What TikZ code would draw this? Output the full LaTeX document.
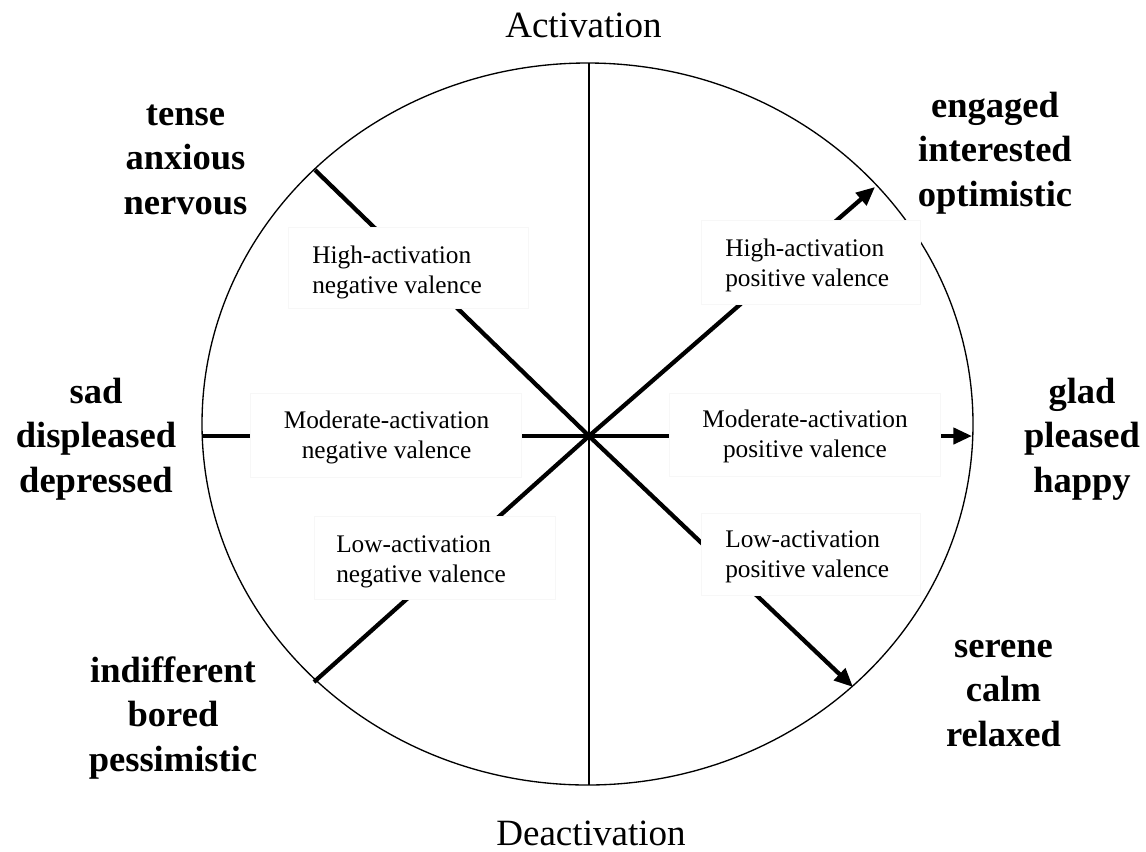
\documentclass[tikz,border=0pt]{standalone}
\usepackage{fontspec}
\setmainfont{Liberation Serif}
\usetikzlibrary{arrows.meta,fit}

% stacked lines whose baseline is that of the first line
\newcommand{\linesof}[2]{\begin{tabular}[t]{@{}#1@{}}#2\end{tabular}}

\begin{document}
\begin{tikzpicture}[x=0.75pt, y=-0.75pt,
  rim/.style={line width=1pt},
  axisline/.style={line width=1.5pt},
  spoke/.style={line width=3.2pt},
  spokearrow/.style={spoke, -{Triangle[length=14pt, width=12pt]}},
  region/.style={draw=black!3, line width=0.4pt, fill=white, inner sep=0pt},
  regionlabel/.style={inner sep=0pt, font=\fontsize{19}{22.5}\selectfont},
  mood/.style={inner sep=0pt, anchor=base, font=\fontsize{27.4}{33.5}\selectfont\bfseries},
  pole/.style={inner sep=0pt, anchor=base, font=\fontsize{27.8}{33}\selectfont},
]
% canvas
\fill[white] (0,0) rectangle (1146,851);
\path[use as bounding box] (0,0) rectangle (1146,851);

% key points
\coordinate (c)   at (589,436);
\coordinate (top) at (589,63);
\coordinate (bot) at (589,785);
\coordinate (w)   at (202,436);
\coordinate (e)   at (972,436);
\coordinate (ul)  at (315,170);
\coordinate (ur)  at (875,187);
\coordinate (ll)  at (314,682);
\coordinate (lr)  at (853,687);

% outer ring and activation axis
\draw[rim] (587.5,424) ellipse [x radius=289.125pt, y radius=270.75pt];
\draw[axisline] (top) -- (bot);

% valence spokes
\draw[spoke] (c) -- (ul);
\draw[spoke] (c) -- (ll);
\draw[spokearrow] (c) -- (ur);
\draw[spokearrow] (c) -- (lr);
\draw[spokearrow] (w) -- (e);

% label panels laid over the spokes
\node[region, fit={(288,227) (528,308)}] (hn) {};
\node[region, fit={(701,220) (920,304)}] (hp) {};
\node[region, fit={(250,393) (521,477)}] (mn) {};
\node[region, fit={(669,393) (940,476)}] (mp) {};
\node[region, fit={(314,516) (555,599)}] (ln) {};
\node[region, fit={(701,513) (920,595)}] (lp) {};

\node[regionlabel, anchor=base west] (hntext) at (312,263) {\linesof{l}{High-activation\\negative valence}};
\node[regionlabel, anchor=base west] (hptext) at (725,256) {\linesof{l}{High-activation\\positive valence}};
\node[regionlabel, anchor=base] (mntext) at (386.5,428) {\linesof{c}{Moderate-activation\\negative valence}};
\node[regionlabel, anchor=base] (mptext) at (805,427) {\linesof{c}{Moderate-activation\\positive valence}};
\node[regionlabel, anchor=base west] (lntext) at (336,552) {\linesof{l}{Low-activation\\negative valence}};
\node[regionlabel, anchor=base west] (lptext) at (725,547) {\linesof{l}{Low-activation\\positive valence}};

% axis poles
\node[pole] (act) at (583.5,37) {Activation};
\node[pole] (deact) at (591,845) {Deactivation};

% affect words
\node[mood] (tense) at (185.5,125) {\linesof{c}{tense\\anxious\\nervous}};
\node[mood] (engaged) at (995,117) {\linesof{c}{engaged\\interested\\optimistic}};
\node[mood] (sad) at (96,403) {\linesof{c}{sad\\displeased\\depressed}};
\node[mood] (glad) at (1082,403) {\linesof{c}{glad\\pleased\\happy}};
\node[mood] (indiff) at (173,682) {\linesof{c}{indifferent\\bored\\pessimistic}};
\node[mood] (serene) at (1003.5,657) {\linesof{c}{serene\\calm\\relaxed}};
\end{tikzpicture}
\end{document}
